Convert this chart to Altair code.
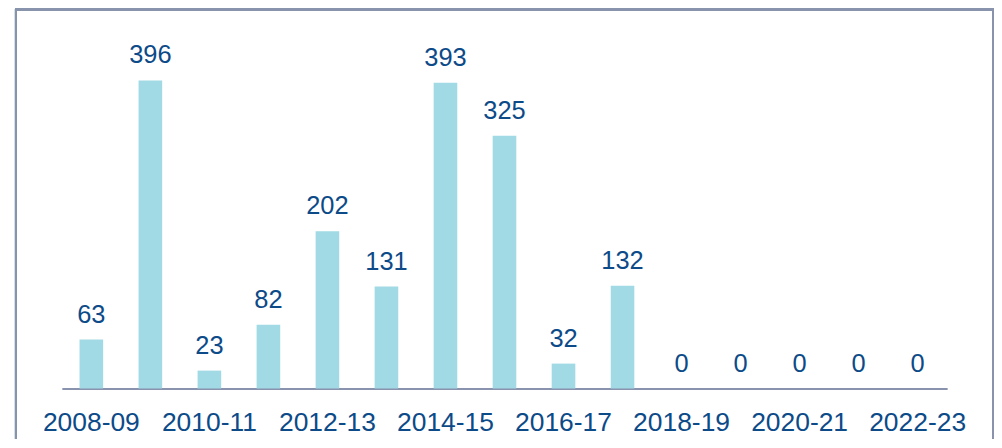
import altair as alt
import pandas as pd

years = ["2008-09", "2009-10", "2010-11", "2011-12", "2012-13", "2013-14",
         "2014-15", "2015-16", "2016-17", "2017-18", "2018-19", "2019-20",
         "2020-21", "2021-22", "2022-23"]
values = [63, 396, 23, 82, 202, 131, 393, 325, 32, 132, 0, 0, 0, 0, 0]
shown_labels = years[::2]

df = pd.DataFrame({"year": years, "value": values})

BAR = "#a1dae4"
TXT = "#0c4a88"
LINE = "#8993ad"
FONT = "Liberation Sans"

x = alt.X("year:N", sort=years,
          scale=alt.Scale(paddingInner=0.6, paddingOuter=0.3),
          axis=alt.Axis(title=None, values=shown_labels, labelAngle=0,
                        ticks=False, tickSize=0, grid=False,
                        domainColor=LINE, domainWidth=2,
                        labelColor=TXT, labelFont=FONT, labelFontSize=26.5,
                        labelBaseline="alphabetic", labelPadding=42,
                        labelOverlap=False))
y = alt.Y("value:Q", scale=alt.Scale(domain=[0, 460]), axis=None)

base = alt.Chart(df)
bars = base.mark_bar(color=BAR).encode(x=x, y=y)
labels = base.mark_text(color=TXT, font=FONT, fontSize=25.5,
                        baseline="alphabetic", dy=-17).encode(
    x=alt.X("year:N", sort=years), y=y, text=alt.Text("value:Q"))

frame_left = alt.Chart(df).mark_rule(color=LINE, strokeWidth=2, clip=False).encode(
    x=alt.value(-46), y=alt.value(-21), y2=alt.value(600))
frame_top = alt.Chart(df).mark_rule(color=LINE, strokeWidth=2, clip=False).encode(
    x=alt.value(-47), x2=alt.value(935), y=alt.value(-21))
frame_right = alt.Chart(df).mark_rule(color=LINE, strokeWidth=2, clip=False).encode(
    x=alt.value(934), y=alt.value(-22), y2=alt.value(600))

chart = alt.layer(bars, labels, frame_left, frame_top, frame_right).properties(
    width=888, height=359,
    autosize=alt.AutoSizeParams(type="none"),
    padding={"left": 54, "top": 22, "right": 47, "bottom": 50},
).configure_view(strokeWidth=0, stroke=None)

chart.save("out.html", embed_options={"renderer": "svg", "actions": False})
